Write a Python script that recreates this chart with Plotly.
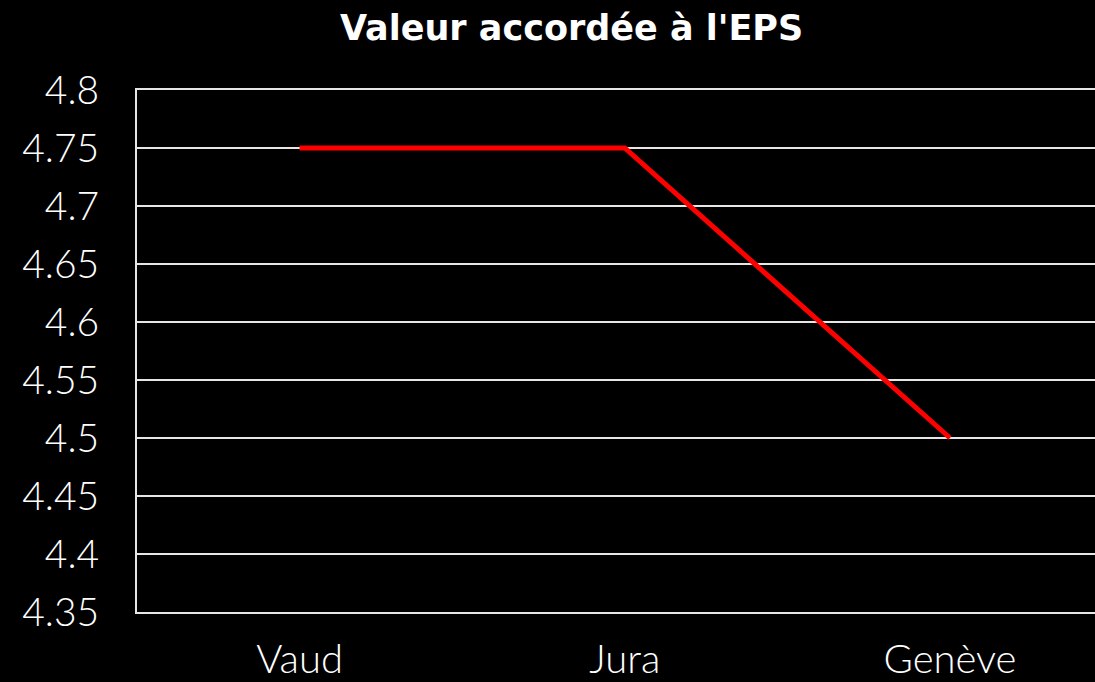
import plotly.graph_objects as go

categories = ["Vaud", "Jura", "Genève"]
values = [4.75, 4.75, 4.5]
y_ticks = [4.35, 4.4, 4.45, 4.5, 4.55, 4.6, 4.65, 4.7, 4.75, 4.8]
y_labels = ["4.35", "4.4", "4.45", "4.5", "4.55", "4.6", "4.65", "4.7", "4.75", "4.8"]
title_text = "Valeur accordée à l'EPS"

font_family = "Lato, Open Sans, sans-serif"
grid_col = "#e6e6e6"

fig = go.Figure()
fig.add_trace(go.Scatter(
    x=categories, y=values, mode="lines",
    line=dict(color="#ff0000", width=5),
    showlegend=False, hoverinfo="skip",
))

fig.update_layout(
    width=1095, height=682,
    paper_bgcolor="black", plot_bgcolor="black",
    margin=dict(l=137, r=0, t=90, b=70),
    title=dict(text="<b>" + title_text + "</b>", x=0.522, xanchor="center",
               y=1 - 28 / 682, yanchor="middle",
               font=dict(family="DejaVu Sans, sans-serif", size=35, color="white")),
    xaxis=dict(
        type="category", range=[-0.5, 2.446], automargin=False,
        showgrid=False, zeroline=False,
        showline=True, mirror=True, linecolor=grid_col, linewidth=2,
        ticks="", ticklabelstandoff=11,
        tickfont=dict(family=font_family, size=40, color="white", weight=300),
    ),
    yaxis=dict(
        range=[4.35, 4.8], tickvals=y_ticks, ticktext=y_labels, automargin=False,
        showgrid=True, gridcolor=grid_col, gridwidth=2,
        zeroline=False,
        showline=True, linecolor=grid_col, linewidth=2,
        ticks="", ticklabelstandoff=28,
        tickfont=dict(family=font_family, size=39, color="white", weight=300),
    ),
)

fig.write_html(
    "out.html",
    config={"displayModeBar": False},
    post_script="document.body.style.margin='0';document.body.style.background='black';",
)
